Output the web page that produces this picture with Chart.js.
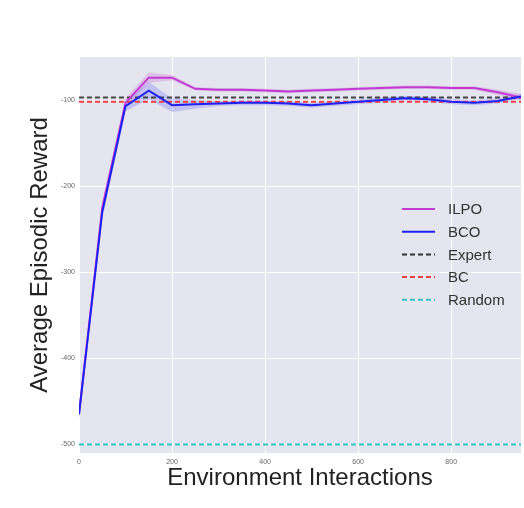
<!DOCTYPE html>
<html>
<head>
<meta charset="utf-8">
<script src="https://cdn.jsdelivr.net/npm/chart.js@4/dist/chart.umd.min.js"></script>
<style>
  html, body { margin: 0; padding: 0; background: #fff; }
  #wrap { width: 524px; height: 508px; }
</style>
</head>
<body>
<div id="wrap"><canvas id="chart" width="524" height="508"></canvas></div>
<script>
// environment interactions
const steps = [0, 50, 100, 150, 200, 250, 300, 350, 400, 450, 500, 550, 600, 650, 700, 750, 800, 850, 900, 950];

const ilpoMean = [-465, -225, -103, -74, -74, -87, -88, -88, -89, -90, -89, -88, -87, -86, -85, -85, -86, -86, -91, -97];
const ilpoStd  = [4, 6, 5, 6, 3, 2, 2, 2, 2, 2, 2, 2, 2, 2, 2, 2, 2, 2, 3, 4];

const bcoMean = [-465, -230, -107, -89, -106, -105, -104, -103, -103, -104, -106, -104, -102, -100, -98, -99, -102, -103, -101, -96];
const bcoStd  = [5, 8, 6, 10, 8, 5, 3, 3, 3, 3, 3, 3, 3, 3, 3, 3, 3, 3, 3, 3];

const expertReward = -97;
const bcReward = -102;
const randomReward = -500;

const xTicks = [0, 200, 400, 600, 800];
const yTicks = [-500, -400, -300, -200, -100];

const pts = (ys) => steps.map((x, i) => ({ x, y: ys[i] }));
const flat = (v) => steps.map(x => ({ x, y: v }));
const band = (m, s, sign) => steps.map((x, i) => ({ x, y: m[i] + sign * s[i] }));

const plotBg = {
  id: 'plotBg',
  beforeDraw(chart) {
    const { ctx, chartArea: a } = chart;
    ctx.save();
    ctx.fillStyle = '#e5e5ef';
    ctx.fillRect(a.left, a.top, a.right - a.left, a.bottom - a.top);
    ctx.restore();
  }
};

const legendItems = [
  { label: 'ILPO', color: '#c03cd0', dash: [] },
  { label: 'BCO', color: '#2020f0', dash: [] },
  { label: 'Expert', color: '#333333', dash: [5, 3] },
  { label: 'BC', color: '#f04040', dash: [5, 3] },
  { label: 'Random', color: '#30c4c8', dash: [5, 3] }
];

const innerLegend = {
  id: 'innerLegend',
  afterDraw(chart) {
    const { ctx, chartArea: a } = chart;
    const x0 = a.left + 323;
    const y0 = a.top + 152;
    ctx.save();
    ctx.font = '15px "Liberation Sans", Arial, sans-serif';
    ctx.textBaseline = 'middle';
    legendItems.forEach((it, i) => {
      const y = y0 + i * 22.7;
      ctx.strokeStyle = it.color;
      ctx.lineWidth = 2;
      ctx.setLineDash(it.dash);
      ctx.beginPath();
      ctx.moveTo(x0, y);
      ctx.lineTo(x0 + 33, y);
      ctx.stroke();
      ctx.fillStyle = '#333';
      ctx.fillText(it.label, x0 + 46, y + 1);
    });
    ctx.restore();
  }
};

const lineBase = { pointRadius: 0, borderWidth: 2, tension: 0, fill: false };
const titleFont = { size: 24, family: '"Liberation Sans", Arial, sans-serif' };

new Chart(document.getElementById('chart'), {
  type: 'line',
  data: {
    datasets: [
      { ...lineBase, label: 'ILPO', data: pts(ilpoMean), borderColor: '#c03cd0', order: 1 },
      { ...lineBase, label: 'BCO', data: pts(bcoMean), borderColor: '#2020f0', order: 0 },
      { ...lineBase, label: 'Expert', data: flat(expertReward), borderColor: 'rgba(40,40,40,0.85)', borderDash: [5, 3], order: 2 },
      { ...lineBase, label: 'BC', data: flat(bcReward), borderColor: '#f04040', borderDash: [5, 3], order: 3 },
      { ...lineBase, label: 'Random', data: flat(randomReward), borderColor: '#30c4c8', borderDash: [5, 3], order: 4 },
      { ...lineBase, label: 'ilpoLo', data: band(ilpoMean, ilpoStd, -1), borderWidth: 0, borderColor: 'transparent', order: 10 },
      { ...lineBase, label: 'ilpoHi', data: band(ilpoMean, ilpoStd, 1), borderWidth: 0, borderColor: 'transparent', fill: '-1', backgroundColor: 'rgba(200,90,220,0.28)', order: 10 },
      { ...lineBase, label: 'bcoLo', data: band(bcoMean, bcoStd, -1), borderWidth: 0, borderColor: 'transparent', order: 10 },
      { ...lineBase, label: 'bcoHi', data: band(bcoMean, bcoStd, 1), borderWidth: 0, borderColor: 'transparent', fill: '-1', backgroundColor: 'rgba(90,90,250,0.25)', order: 10 }
    ]
  },
  options: {
    responsive: false,
    animation: false,
    layout: { padding: { left: 22, top: 57, right: 3, bottom: 11 } },
    plugins: {
      legend: { display: false },
      tooltip: { enabled: false }
    },
    scales: {
      x: {
        type: 'linear',
        min: 0,
        max: 950,
        afterFit: (s) => { s.height = 44; },
        afterBuildTicks: (s) => { s.ticks = xTicks.map(v => ({ value: v })); },
        grid: { color: '#ffffff', lineWidth: 1, drawTicks: false },
        border: { display: false },
        ticks: { color: '#666', font: { size: 7 }, padding: 5, maxRotation: 0 },
        title: { display: true, text: 'Environment Interactions', color: '#222', font: titleFont, padding: { top: 4, bottom: 4 } }
      },
      y: {
        min: -510,
        max: -50,
        afterFit: (s) => { s.width = 57; },
        afterBuildTicks: (s) => { s.ticks = yTicks.map(v => ({ value: v })); },
        grid: { color: '#ffffff', lineWidth: 1, drawTicks: false },
        border: { display: false },
        ticks: { color: '#666', font: { size: 7 }, padding: 4 },
        title: { display: true, text: 'Average Episodic Reward', color: '#222', font: titleFont, padding: { top: 4, bottom: 4 } }
      }
    }
  },
  plugins: [plotBg, innerLegend]
});
</script>
</body>
</html>
